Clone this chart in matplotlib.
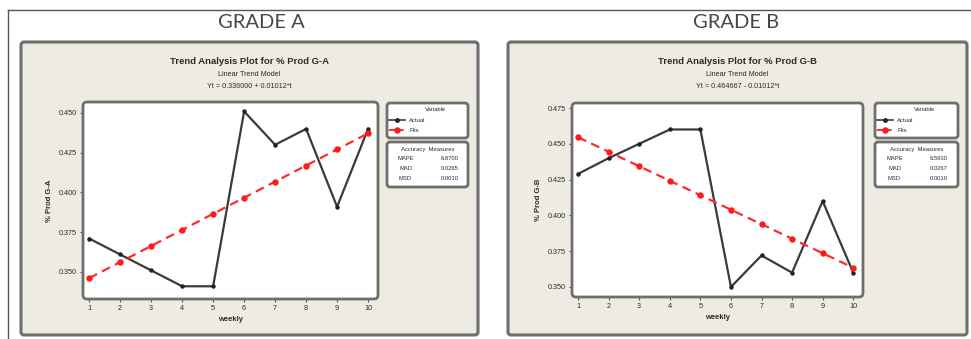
import matplotlib
matplotlib.use("Agg")
import matplotlib.pyplot as plt
from matplotlib.patches import FancyBboxPatch
from matplotlib.lines import Line2D
from matplotlib.transforms import IdentityTransform
import numpy as np

# weekly production share for the two grades
weeks = [1, 2, 3, 4, 5, 6, 7, 8, 9, 10]
prod_a = [0.371, 0.361, 0.351, 0.341, 0.341, 0.451, 0.430, 0.440, 0.391, 0.440]
prod_b = [0.429, 0.440, 0.450, 0.460, 0.460, 0.350, 0.372, 0.360, 0.410, 0.360]

# linear trend models  Yt = b0 + b1*t
trend_a = [0.336000, 0.01012]
trend_b = [0.464667, -0.01012]

yticks_a = [0.350, 0.375, 0.400, 0.425, 0.450]
yticks_b = [0.350, 0.375, 0.400, 0.425, 0.450, 0.475]

W, H = 971, 339
BEIGE = "#eeebe3"
EDGE = "#6e6e6e"
INK = "#2b2b2b"

fig = plt.figure(figsize=(W / 100, H / 100), dpi=100)
fig.patch.set_facecolor("white")
plt.rcParams["font.family"] = ["Liberation Sans", "DejaVu Sans"]


def pbox(x0, y0, x1, y1):
    return [x0 / W, 1 - y1 / H, (x1 - x0) / W, (y1 - y0) / H]


def rounded(x0, y0, x1, y1, fc="none", ec=EDGE, lw=2.0, r=4, z=5):
    patch = FancyBboxPatch((x0, H - y1), x1 - x0, y1 - y0,
                           boxstyle=f"round,pad=0,rounding_size={r}",
                           transform=IdentityTransform(), fc=fc, ec=ec,
                           lw=lw, zorder=z)
    fig.add_artist(patch)


def fig_text(x, y, s, **kw):
    fig.text(x / W, 1 - y / H, s, **kw)


# outer frame lines
fig.add_artist(Line2D([8 / W, 970 / W], [1 - 10 / H, 1 - 10 / H],
                      transform=fig.transFigure, color="#555555", lw=1.0))
fig.add_artist(Line2D([8 / W, 8 / W], [1 - 10 / H, 0],
                      transform=fig.transFigure, color="#555555", lw=1.0))


def accuracy(actual, b0, b1):
    t = np.array(weeks)
    y = np.array(actual)
    fit = b0 + b1 * t
    err = y - fit
    mape = np.mean(np.abs(err / y)) * 100
    mad = np.mean(np.abs(err))
    msd = np.mean(err ** 2)
    return mape, mad, msd


def draw_grade(name, tag, actual, trend, yticks, ylim, head_x, panel, plot,
               leg):
    px0, py0, px1, py1 = panel
    cx = (px0 + px1) / 2
    fig_text(head_x, 22, name, ha="center", va="center", fontsize=14.5,
             color="#474747", family=["Lato", "DejaVu Sans"])

    rounded(px0, py0, px1, py1, fc=BEIGE, ec=EDGE, lw=2.2, r=3, z=-1)

    fig_text(cx, 62, f"Trend Analysis Plot for % Prod {tag}", ha="center",
             va="center", fontsize=6.8, fontweight="bold", color=INK)
    fig_text(cx, 75, "Linear Trend Model", ha="center", va="center",
             fontsize=5.2, color=INK)
    b0, b1 = trend
    sign = "+" if b1 >= 0 else "-"
    fig_text(cx, 87, f"Yt = {b0:.6f} {sign} {abs(b1):.5f}*t", ha="center",
             va="center", fontsize=5.2, color=INK)

    ax = fig.add_axes(pbox(*plot))
    ax.set_facecolor("white")
    for s in ax.spines.values():
        s.set_visible(False)
    rounded(*plot, lw=2.0, r=4, z=5)

    t = np.array(weeks)
    fits = b0 + b1 * t
    ax.plot(weeks, actual, color="#3a3a3a", lw=1.6, marker="o", ms=2.2,
            mfc="#222222", mec="#222222", zorder=3)
    ax.plot(weeks, fits, color="#ff2a2a", lw=1.6, ls=(0, (4, 2.5)),
            marker="o", ms=3.6, mfc="#ff1a1a", mec="#ff1a1a", zorder=4)

    ax.set_xlim(0.8, 10.32)
    ax.set_ylim(*ylim)
    ax.set_xticks(weeks)
    ax.set_yticks(yticks)
    ax.set_yticklabels([f"{v:.3f}" for v in yticks])
    ax.tick_params(labelsize=5.2, colors="#555555", labelcolor=INK,
                   length=2.5, width=0.8, pad=2)
    ax.set_xlabel("weekly", fontsize=5.5, fontweight="bold", color=INK,
                  labelpad=3)
    ax.set_ylabel(f"% Prod {tag}", fontsize=5.5, fontweight="bold",
                  color=INK, labelpad=4)

    # legend: variables
    lx0, lx1 = leg
    lg = fig.add_axes(pbox(lx0, 103, lx1, 138))
    lg.set_facecolor("white")
    lg.set_xticks([])
    lg.set_yticks([])
    for s in lg.spines.values():
        s.set_visible(False)
    rounded(lx0, 103, lx1, 138, lw=2.0, r=3)
    lg.set_xlim(0, lx1 - lx0)
    lg.set_ylim(35, 0)
    mid = (lx1 - lx0) / 2
    lg.text(mid + 8, 7, "Variable", ha="center", va="center", fontsize=4.2,
            color=INK)
    lg.plot([2, 18], [17, 17], color="#3a3a3a", lw=1.2)
    lg.plot([10], [17], marker="o", ms=2.5, color="#222222")
    lg.text(22, 17, "Actual", ha="left", va="center", fontsize=4.2,
            color=INK)
    lg.plot([2, 18], [27, 27], color="#ff2a2a", lw=1.4, ls=(0, (3, 1.5)))
    lg.plot([10], [27], marker="o", ms=3.6, color="#ff1a1a")
    lg.text(22, 27, "Fits", ha="left", va="center", fontsize=4.2, color=INK)

    # legend: accuracy measures
    acc = fig.add_axes(pbox(lx0, 142, lx1, 187))
    acc.set_facecolor("white")
    acc.set_xticks([])
    acc.set_yticks([])
    for s in acc.spines.values():
        s.set_visible(False)
    rounded(lx0, 142, lx1, 187, lw=2.0, r=3)
    acc.set_xlim(0, lx1 - lx0)
    acc.set_ylim(45, 0)
    acc.text(mid, 7, "Accuracy  Measures", ha="center", va="center",
             fontsize=4.2, color=INK)
    mape, mad, msd = accuracy(actual, b0, b1)
    rows = [("MAPE", f"{mape:.4f}"), ("MAD", f"{mad:.4f}"),
            ("MSD", f"{msd:.4f}")]
    for i, (lab, val) in enumerate(rows):
        yy = 16 + i * 10
        acc.text(mid - 22, yy, lab, ha="center", va="center", fontsize=4.2,
                 color=INK)
        acc.text(mid + 22, yy, val, ha="center", va="center", fontsize=4.2,
                 color=INK)


draw_grade("GRADE A", "G-A", prod_a, trend_a, yticks_a, (0.333, 0.4569),
           head_x=261, panel=(21, 42, 478, 335), plot=(83, 102, 378, 299),
           leg=(387, 468))
draw_grade("GRADE B", "G-B", prod_b, trend_b, yticks_b, (0.343, 0.4785),
           head_x=736, panel=(508, 42, 967, 335), plot=(572, 103, 863, 297),
           leg=(875, 958))

fig.savefig("out.png", dpi=100, facecolor="white")
